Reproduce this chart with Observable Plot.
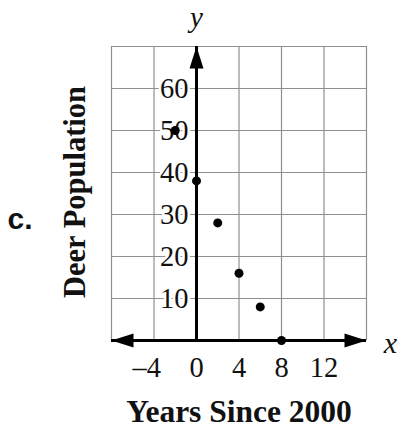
<!DOCTYPE html>
<html><head><meta charset="utf-8">
<script src="https://cdn.jsdelivr.net/npm/d3@7"></script>
<script src="https://cdn.jsdelivr.net/npm/@observablehq/plot@0.6"></script>
<style>body{margin:0;background:#fff}</style>
</head><body><div id="chart"></div>
<script>
const years = [-2, 0, 2, 4, 6, 8];
const deer = [50, 38, 28, 16, 8, 0];
const xTicks = [-4, 0, 4, 8, 12];
const xTickLabels = ["–4", "0", "4", "8", "12"];
const yTicks = [10, 20, 30, 40, 50, 60];
const xGrid = [-8, -4, 0, 4, 8, 12, 16];
const yGrid = [10, 20, 30, 40, 50, 60, 70];
const xDomain = [-8, 16];
const yDomain = [0, 70];

const points = years.map((x, i) => ({x, y: deer[i]}));
const xLabs = xTicks.map((v, i) => ({v, t: xTickLabels[i]}));

const serif = "Liberation Serif, Times New Roman, serif";
const L = 22, W = 7;
const arrowRight = {draw(c){c.moveTo(0,0);c.lineTo(-L,-W);c.lineTo(-L,W);c.closePath();}};
const arrowLeft = {draw(c){c.moveTo(0,0);c.lineTo(L,-W);c.lineTo(L,W);c.closePath();}};
const arrowUp = {draw(c){c.moveTo(0,0);c.lineTo(-W,L);c.lineTo(W,L);c.closePath();}};

const chart = Plot.plot({
  width: 400, height: 432,
  marginLeft: 111, marginRight: 34, marginTop: 46, marginBottom: 92,
  style: {background: "#fff", overflow: "visible"},
  x: {domain: xDomain, axis: null},
  y: {domain: yDomain, axis: null},
  marks: [
    Plot.ruleX(xGrid, {stroke: "#8f8f8f", strokeWidth: 1.2}),
    Plot.ruleY(yGrid, {stroke: "#8f8f8f", strokeWidth: 1.2}),
    Plot.text(yTicks, {x: 0, y: d => d, text: d => String(d), textAnchor: "end", lineAnchor: "middle", dx: -8,
      fontSize: 28.5, fontFamily: serif, fill: "#111", stroke: "white", strokeWidth: 5, paintOrder: "stroke"}),
    Plot.text(xLabs.filter(d => d.v >= 0), {x: "v", y: 0, text: "t", textAnchor: "middle", lineAnchor: "middle", dy: 27,
      fontSize: 28.5, fontFamily: serif, fill: "#111"}),
    Plot.text(xLabs.filter(d => d.v < 0), {x: "v", y: 0, text: "t", textAnchor: "end", lineAnchor: "middle", dy: 27, dx: 7,
      fontSize: 28.5, fontFamily: serif, fill: "#111"}),
    Plot.ruleY([0], {stroke: "black", strokeWidth: 3}),
    Plot.ruleX([0], {stroke: "black", strokeWidth: 3}),
    Plot.dot({length: 1}, {frameAnchor: "bottom-right", symbol: arrowRight, fill: "black", stroke: "none"}),
    Plot.dot({length: 1}, {frameAnchor: "bottom-left", symbol: arrowLeft, fill: "black", stroke: "none"}),
    Plot.dot([0], {x: d => d, frameAnchor: "top", symbol: arrowUp, fill: "black", stroke: "none"}),
    Plot.dot(points, {x: "x", y: "y", r: 4.5, fill: "black", stroke: "none"}),
    Plot.text(["y"], {x: 0, frameAnchor: "top", textAnchor: "middle", lineAnchor: "middle", dy: -28.5,
      fontStyle: "italic", fontSize: 29, fontFamily: serif, fill: "#111"}),
    Plot.text(["x"], {frameAnchor: "bottom-right", textAnchor: "middle", lineAnchor: "middle", dx: 24, dy: 3,
      fontStyle: "italic", fontSize: 30, fontFamily: serif, fill: "#111"}),
    Plot.text(["Years Since 2000"], {frameAnchor: "bottom", textAnchor: "middle", lineAnchor: "middle", dy: 71,
      fontWeight: "bold", fontSize: 31.5, fontFamily: serif, fill: "#111"}),
    Plot.text(["Deer Population"], {frameAnchor: "left", textAnchor: "middle", lineAnchor: "middle", rotate: -90, dx: -36, dy: -1.5,
      fontWeight: "bold", fontSize: 30.5, fontFamily: serif, fill: "#111"}),
    Plot.text(["c."], {frameAnchor: "left", textAnchor: "start", lineAnchor: "middle", dx: -104, dy: 26,
      fontWeight: "bold", fontSize: 30, fontFamily: "Liberation Sans, Arial, sans-serif", fill: "#111"})
  ]
});
document.getElementById("chart").appendChild(chart);
</script>
</body></html>
